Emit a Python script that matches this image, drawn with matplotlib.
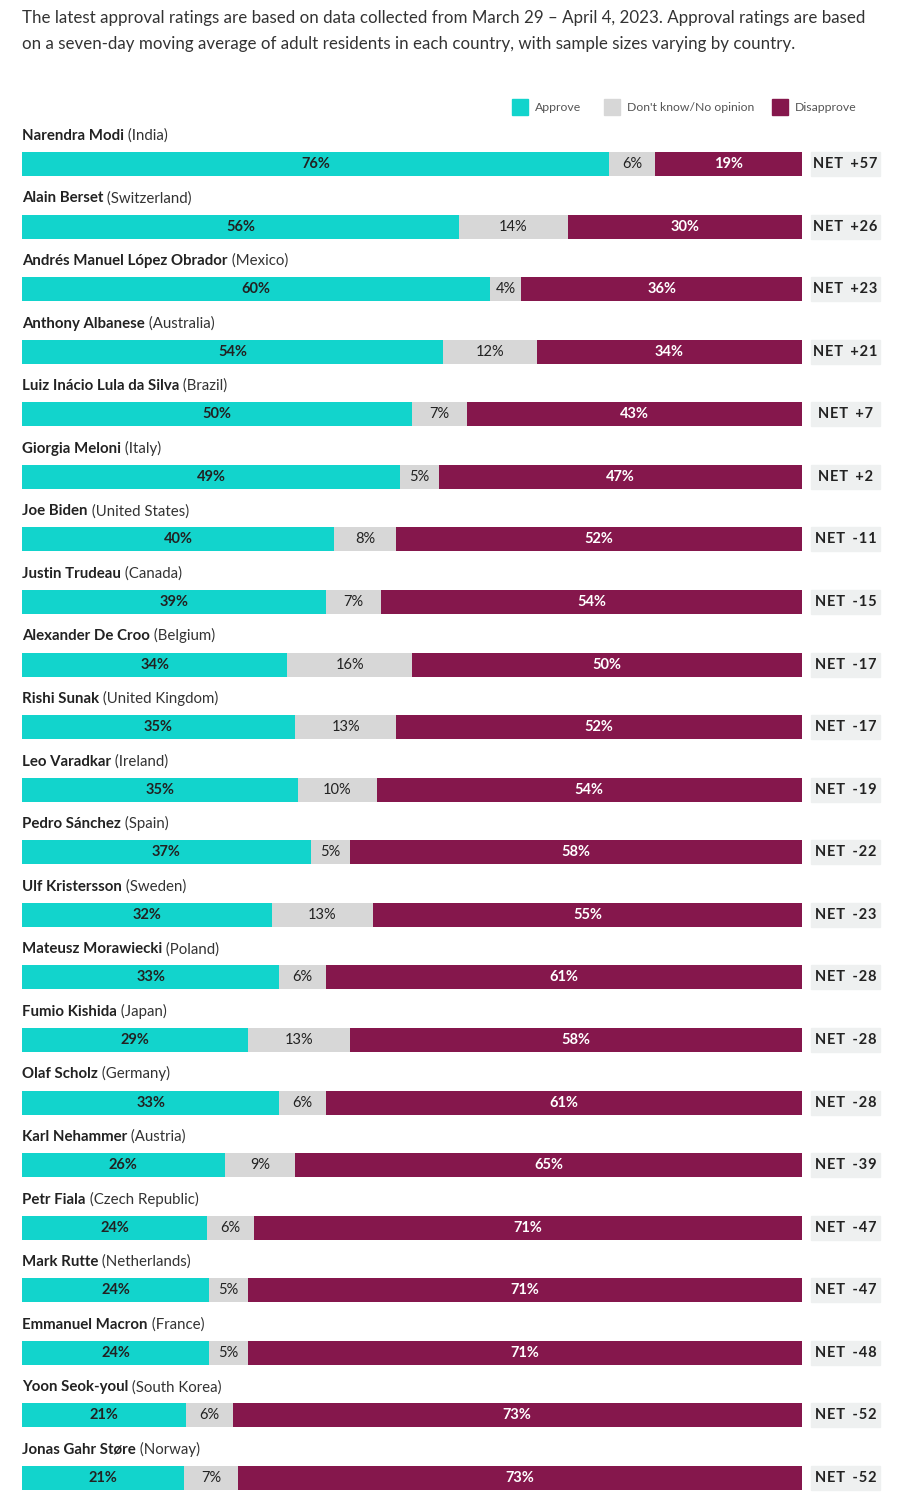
import matplotlib
matplotlib.use("Agg")
import matplotlib.pyplot as plt
from matplotlib.patches import Rectangle

plt.rcParams['font.family'] = ['Lato', 'DejaVu Sans']

# data
leaders = ["Narendra Modi", "Alain Berset", "Andrés Manuel López Obrador", "Anthony Albanese",
           "Luiz Inácio Lula da Silva", "Giorgia Meloni", "Joe Biden", "Justin Trudeau",
           "Alexander De Croo", "Rishi Sunak", "Leo Varadkar", "Pedro Sánchez",
           "Ulf Kristersson", "Mateusz Morawiecki", "Fumio Kishida", "Olaf Scholz",
           "Karl Nehammer", "Petr Fiala", "Mark Rutte", "Emmanuel Macron",
           "Yoon Seok-youl", "Jonas Gahr Støre"]
countries = ["India", "Switzerland", "Mexico", "Australia", "Brazil", "Italy",
             "United States", "Canada", "Belgium", "United Kingdom", "Ireland", "Spain",
             "Sweden", "Poland", "Japan", "Germany", "Austria", "Czech Republic",
             "Netherlands", "France", "South Korea", "Norway"]
approve = [76, 56, 60, 54, 50, 49, 40, 39, 34, 35, 35, 37, 32, 33, 29, 33, 26, 24, 24, 24, 21, 21]
dont_know = [6, 14, 4, 12, 7, 5, 8, 7, 16, 13, 10, 5, 13, 6, 13, 6, 9, 6, 5, 5, 6, 7]
disapprove = [19, 30, 36, 34, 43, 47, 52, 54, 50, 52, 54, 58, 55, 61, 58, 61, 65, 71, 71, 71, 73, 73]
net = ["+57", "+26", "+23", "+21", "+7", "+2", "-11", "-15", "-17", "-17", "-19", "-22",
       "-23", "-28", "-28", "-28", "-39", "-47", "-47", "-48", "-52", "-52"]

c_app = "#12d4cc"
c_dk = "#d7d7d7"
c_dis = "#85174c"
c_text = "#222222"

W, H = 900, 1501
fig = plt.figure(figsize=(W / 100, H / 100), dpi=100)

# axes in pixel terms: x 22..880 px, y 120..1500 px
top_px, bot_px = 120, 1500
ax = fig.add_axes([22 / W, 1 - bot_px / H, (880 - 22) / W, (bot_px - top_px) / H])
row0, step = 164, 62.57
ax.set_xlim(0, 110)
ax.set_ylim((bot_px - row0) / step, (top_px - row0) / step)
ax.axis("off")


def spaced(s):
    # rough letter spacing with hair spaces
    return "\u200a".join(s).replace("\u200a \u200a", "\u2009 \u2009")


n = len(leaders)
bh = 24 / step
for i in range(n):
    tot = approve[i] + dont_know[i] + disapprove[i]
    a = approve[i] / tot * 100
    d = dont_know[i] / tot * 100
    s = disapprove[i] / tot * 100
    ax.barh(i, a, left=0, height=bh, color=c_app)
    ax.barh(i, d, left=a, height=bh, color=c_dk)
    ax.barh(i, s, left=a + d, height=bh, color=c_dis)
    ax.text(a / 2, i, f"{approve[i]}%", ha="center", va="center",
            fontsize=10.5, fontweight="bold", color=c_text)
    ax.text(a + d / 2, i, f"{dont_know[i]}%", ha="center", va="center",
            fontsize=10.5, color=c_text)
    ax.text(a + d + s / 2, i, f"{disapprove[i]}%", ha="center", va="center",
            fontsize=10.5, fontweight="bold", color="white")

    # net box
    ax.add_patch(Rectangle((101.15, i - bh / 2), 110 - 101.15, bh,
                           color="#eef0f0", clip_on=False))
    ax.text(105.6, i, spaced("NET " + net[i]), ha="center", va="center",
            fontsize=10.5, fontweight="bold", color=c_text)

    # leader name + country
    t = ax.text(0, i - 0.45, leaders[i], ha="left", va="center",
                fontsize=10.8, fontweight="bold", color=c_text)
    ax.annotate(" (" + countries[i] + ")", xy=(1, 0), xycoords=t,
                ha="left", va="bottom", fontsize=10.8, color="#333333")

# intro text
intro = ("The latest approval ratings are based on data collected from March 29 \u2013 April 4, 2023. Approval ratings are based\n"
         "on a seven-day moving average of adult residents in each country, with sample sizes varying by country.")
fig.text(22 / W, 1 - 10 / H, intro, ha="left", va="top", fontsize=12.2,
         color="#333333", linespacing=1.75)

# legend
legend_items = [("Approve", c_app, 512), ("Don't know/No opinion", c_dk, 604),
                ("Disapprove", c_dis, 772)]
for label, col, xp in legend_items:
    fig.patches.append(Rectangle((xp / W, 1 - 115 / H), 16 / W, 16 / H,
                                 transform=fig.transFigure, color=col))
    fig.text((xp + 23) / W, 1 - 107.5 / H, label, ha="left", va="center",
             fontsize=8.8, color="#555555")

fig.savefig("out.png", dpi=100, facecolor="white")
